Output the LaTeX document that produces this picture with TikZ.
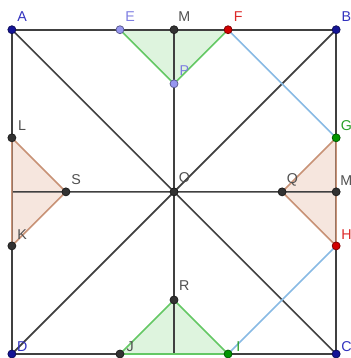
\documentclass[tikz,border=0pt]{standalone}
\usepackage{fontspec}
\setsansfont{Liberation Sans}
\usetikzlibrary{calc}

\definecolor{ptnavy}{RGB}{20,20,150}
\definecolor{lbnavy}{RGB}{50,50,190}
\definecolor{ptlav}{RGB}{150,150,240}
\definecolor{lblav}{RGB}{125,125,225}
\definecolor{ptred}{RGB}{210,0,0}
\definecolor{lbred}{RGB}{220,40,40}
\definecolor{ptgreen}{RGB}{0,150,0}
\definecolor{lbgreen}{RGB}{40,160,40}
\definecolor{ptgray}{RGB}{50,50,50}
\definecolor{lbgray}{RGB}{80,80,80}
\definecolor{edgegreen}{RGB}{100,200,100}
\definecolor{fillgreen}{RGB}{222,244,222}
\definecolor{edgebrown}{RGB}{200,146,118}
\definecolor{fillbrown}{RGB}{246,230,222}
\definecolor{lineblue}{RGB}{136,186,228}

\tikzset{
  seg/.style={line width=0.85pt, draw=black!75},
  tri/.style={line width=0.85pt},
  pnt/.style={circle, inner sep=0pt, minimum size=4.2pt, line width=0.4pt},
  lbl/.style={font=\sffamily\fontsize{7.5}{8}\selectfont, inner sep=0pt},
}

\begin{document}
\begin{tikzpicture}[x=1cm, y=1cm]
  \useasboundingbox (-0.22,-0.074) rectangle (6.26,6.55);
  % square ABCD of side 6, points on its sides and medians
  \foreach \n/\x/\y in {A/0/6, B/6/6, C/6/0, D/0/0, E/2/6, M/3/6, F/4/6, P/3/5,
      G/6/4, Mr/6/3, H/6/2, Q/5/3, L/0/4, K/0/2, S/1/3, J/2/0, I/4/0, R/3/1, O/3/3}
    \coordinate (\n) at (\x,\y);
  \coordinate (Nl) at (0,3);
  \coordinate (Nb) at (3,0);
  % shaded triangles
  \fill[fillgreen] (E) -- (F) -- (P) -- cycle;
  \fill[fillgreen] (J) -- (I) -- (R) -- cycle;
  \fill[fillbrown] (L) -- (K) -- (S) -- cycle;
  \fill[fillbrown] (G) -- (H) -- (Q) -- cycle;
  % square, diagonals and medians
  \draw[seg] (A) -- (B) -- (C) -- (D) -- cycle;
  \draw[seg] (A) -- (C) (B) -- (D) (M) -- (Nb) (Nl) -- (Mr);
  % triangle sides
  \draw[tri, edgegreen] (E) -- (P) -- (F);
  \draw[tri, edgegreen] (J) -- (R) -- (I) -- cycle;
  \draw[tri, edgebrown] (L) -- (S) -- (K) -- cycle;
  \draw[tri, edgebrown] (G) -- (Q) -- (H) -- cycle;
  \draw[tri, lineblue] (F) -- (G) (I) -- (H);
  % points and their labels
  \foreach \n/\c/\t/\dy in {A/navy/A/0.25, B/navy/B/0.25, C/navy/C/0.14, D/navy/D/0.14,
      E/lav/E/0.25, M/gray/M/0.25, F/red/F/0.25, P/lav/P/0.25,
      G/green/G/0.23, Mr/gray/M/0.21, H/red/H/0.21, Q/gray/Q/0.23,
      L/gray/L/0.22, K/gray/K/0.2, S/gray/S/0.22, O/gray/O/0.26,
      J/gray/J/0.14, I/green/I/0.14, R/gray/R/0.26}{
    \node[pnt, fill=pt\c, draw=pt\c!60!black] (d\n) at (\n) {};
    \node[lbl, text=lb\c] (l\n) at ($(\n)+(0.19,\dy)$) {\t};
  }
\end{tikzpicture}
\end{document}
